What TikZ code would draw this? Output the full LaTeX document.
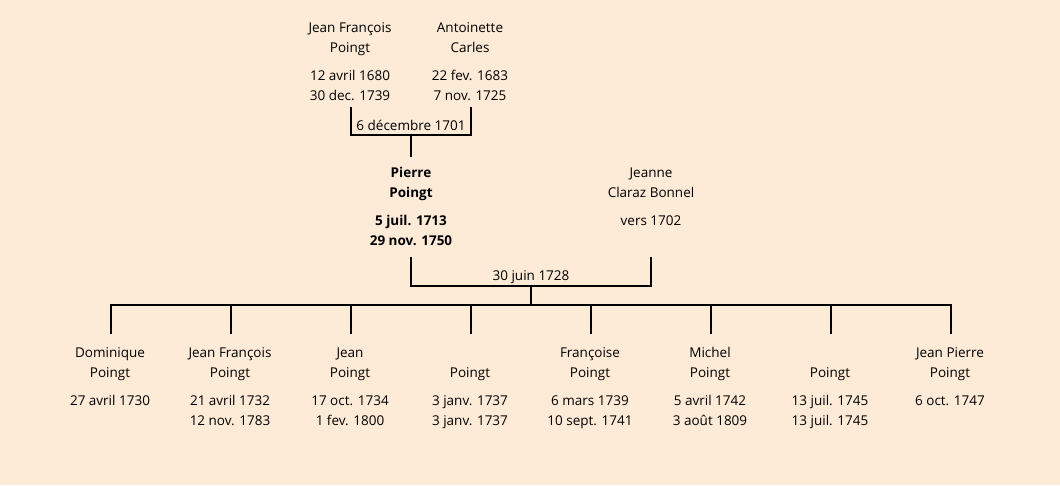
\documentclass[tikz,border=0pt]{standalone}
\usepackage{fontspec}
\setmainfont{Open Sans}
\definecolor{bg}{RGB}{253,235,216}
\begin{document}
\begin{tikzpicture}[x=1pt,y=-1pt,
  txt/.style={anchor=base,inner sep=0pt,font=\fontsize{13.5}{15}\selectfont},
  btxt/.style={txt,font=\fontsize{13.5}{15}\selectfont\bfseries},
  link/.style={line width=1.7pt,line cap=rect}]
\fill[bg] (0,0) rectangle (1060,485);
\useasboundingbox (0,0) rectangle (1060,485);
% generation 1
\node[txt] (jf1) at (350,32) {Jean François};
\node[txt] (jf2) at (350,52) {Poingt};
\node[txt] (jf3) at (350,80) {12 avril 1680};
\node[txt] (jf4) at (350,100) {30 dec. 1739};
\node[txt] (ac1) at (470,32) {Antoinette};
\node[txt] (ac2) at (470,52) {Carles};
\node[txt] (ac3) at (470,80) {22 fev. 1683};
\node[txt] (ac4) at (470,100) {7 nov. 1725};
\coordinate (m1a) at (351,108);
\coordinate (m1b) at (471,108);
\coordinate (m1c) at (411,135);
\coordinate (m1d) at (411,156);
\draw[link] (m1a) |- (m1c) -| (m1b);
\draw[link] (m1c) -- (m1d);
\node[txt] (m1) at (411,130) {6 décembre 1701};
% generation 2
\node[btxt] (pp1) at (411,177) {Pierre};
\node[btxt] (pp2) at (411,197) {Poingt};
\node[btxt] (pp3) at (411,225) {5 juil. 1713};
\node[btxt] (pp4) at (411,245) {29 nov. 1750};
\node[txt] (jc1) at (651,177) {Jeanne};
\node[txt] (jc2) at (651,197) {Claraz Bonnel};
\node[txt] (jc3) at (651,225) {vers 1702};
\coordinate (m2a) at (411,258);
\coordinate (m2b) at (651,258);
\coordinate (m2c) at (531,286);
\coordinate (m2d) at (531,305);
\draw[link] (m2a) |- (m2c) -| (m2b);
\draw[link] (m2c) -- (m2d);
\node[txt] (m2) at (531,280) {30 juin 1728};
% children bar
\coordinate (barL) at (111,305);
\coordinate (barR) at (951,305);
\draw[link] (barL) -- (barR);
\foreach \i/\x/\a/\b/\c/\d in {
  1/111/Dominique/Poingt/27 avril 1730/,
  2/231/Jean François/Poingt/21 avril 1732/12 nov. 1783,
  3/351/Jean/Poingt/17 oct. 1734/1 fev. 1800,
  4/471//Poingt/3 janv. 1737/3 janv. 1737,
  5/591/Françoise/Poingt/6 mars 1739/10 sept. 1741,
  6/711/Michel/Poingt/5 avril 1742/3 août 1809,
  7/831//Poingt/13 juil. 1745/13 juil. 1745,
  8/951/Jean Pierre/Poingt/6 oct. 1747/}{
  \coordinate (t\i) at (\x,305);
  \coordinate (b\i) at (\x,333);
  \draw[link] (t\i) -- (b\i);
  \node[txt] (c\i a) at (\x-1,357) {\a};
  \node[txt] (c\i b) at (\x-1,377) {\b};
  \node[txt] (c\i c) at (\x-1,405) {\c};
  \node[txt] (c\i d) at (\x-1,425) {\d};
}
\end{tikzpicture}
\end{document}
